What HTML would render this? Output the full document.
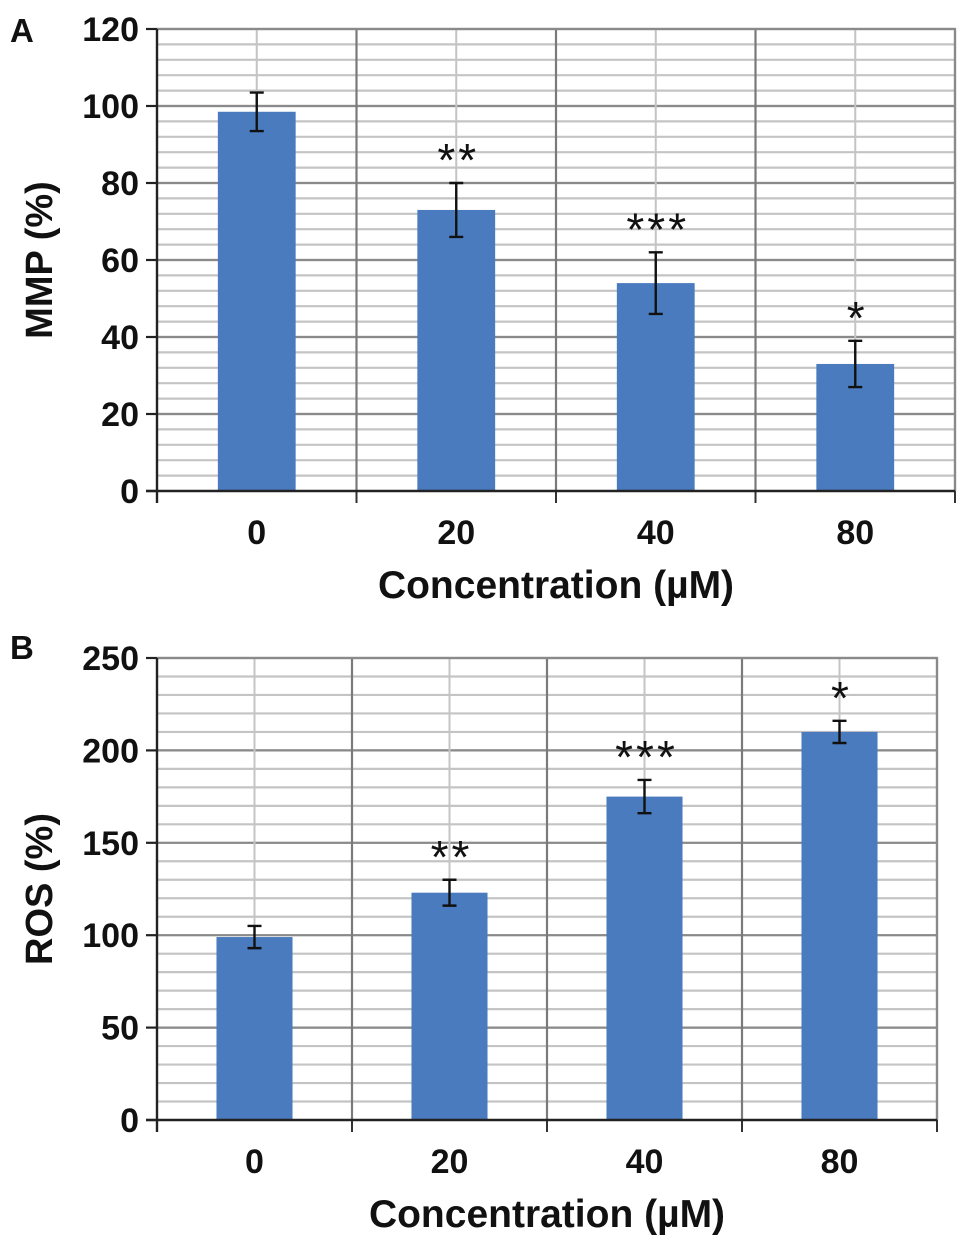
<!DOCTYPE html>
<html><head><meta charset="utf-8"><style>
html,body{margin:0;padding:0;background:#fff;}
svg{display:block;font-family:"Liberation Sans",Arial,sans-serif;font-weight:bold;}
</style></head><body>
<svg id="chart" width="969" height="1247" viewBox="0 0 969 1247" xmlns="http://www.w3.org/2000/svg"></svg>
<script>
const categories = ["0","20","40","80"];
const mmpValues = [98.5, 73, 54, 33];
const mmpErrors = [5, 7, 8, 6];
const mmpStars = ["", "**", "***", "*"];
const mmpTicks = [0,20,40,60,80,100,120];
const rosValues = [99, 123, 175, 210];
const rosErrors = [6, 7, 9, 6];
const rosStars = ["", "**", "***", "*"];
const rosTicks = [0,50,100,150,200,250];

const NS = "http://www.w3.org/2000/svg";
const svg = document.getElementById("chart");
function mk(tag, attrs, parent){
  const e = document.createElementNS(NS, tag);
  for (const k in attrs) e.setAttribute(k, attrs[k]);
  (parent||svg).appendChild(e);
  return e;
}

function panel(cfg){
  const g = mk("g", {});
  
  
  const {left,right,top,bottom,max,minor} = cfg;
  const yS = v => bottom - (v/max)*(bottom-top);
  const cw = (right-left)/categories.length;
  const xC = i => left + cw*(i+0.5);
  for (let v=minor; v<max; v+=minor){
    const l = mk("line",{x1:left,x2:right,y1:yS(v),y2:yS(v),stroke:"#c4c4c4","stroke-width":2.2},g);
    
    
  }
  cfg.ticks.forEach(t=>{
    if(t===0) return;
    const l = mk("line",{x1:left,x2:right,y1:yS(t),y2:yS(t),stroke:"#8a8a8a","stroke-width":2.2},g);
    
    
  });
  categories.forEach((c,i)=>{
    const lc = mk("line",{x1:xC(i),x2:xC(i),y1:top,y2:bottom,stroke:"#c4c4c4","stroke-width":2},g);
    
    
    const xb = left+cw*(i+1);
    const lb = mk("line",{x1:xb,x2:xb,y1:top,y2:bottom,stroke:"#7a7a7a","stroke-width":2.2},g);
    
    
    const tk = mk("line",{x1:xb,x2:xb,y1:bottom,y2:bottom+12,stroke:"#333","stroke-width":2},g);
    
    
  });
  cfg.values.forEach((v,i)=>{
    const bw = cw*0.39;
    const b = mk("rect",{x:xC(i)-bw/2,y:yS(v),width:bw,height:bottom-yS(v),fill:"#4a7bbf"},g);
    
    
    const e = cfg.errors[i];
    const eg = mk("path",{d:`M${xC(i)} ${yS(v+e)}V${yS(v-e)}M${xC(i)-7} ${yS(v+e)}H${xC(i)+7}M${xC(i)-7} ${yS(v-e)}H${xC(i)+7}`,stroke:"#111","stroke-width":2.4,fill:"none"},g);
    
    
    if(cfg.stars[i]){
      const s = mk("text",{x:xC(i)+2,y:yS(v+e)-7,"text-anchor":"middle","font-size":46,"font-weight":"normal","letter-spacing":3,fill:"#111"},g);
      s.textContent = cfg.stars[i];
      
      
    }
    const xl = mk("text",{x:xC(i),y:bottom+53,"text-anchor":"middle","font-size":34,fill:"#111"},g);
    xl.textContent = categories[i];
    
    
  });
  const bd = mk("path",{d:`M${left} ${top}H${right}V${bottom}`,stroke:"#8a8a8a","stroke-width":2.2,fill:"none"},g);
  
  
  const ya = mk("line",{x1:left,x2:left,y1:top,y2:bottom+12,stroke:"#222","stroke-width":2.4},g);
  
  
  const xa = mk("line",{x1:left-11,x2:right,y1:bottom,y2:bottom,stroke:"#222","stroke-width":2.4},g);
  
  
  cfg.ticks.forEach(t=>{
    const tk = mk("line",{x1:left-11,x2:left,y1:yS(t),y2:yS(t),stroke:"#222","stroke-width":2.2},g);
    
    
    const tl = mk("text",{x:139,y:yS(t)+12,"text-anchor":"end","font-size":34,fill:"#111"},g);
    tl.textContent = t;
    
    
  });
  const yt = mk("text",{x:0,y:0,"text-anchor":"middle","font-size":38,fill:"#111",transform:`translate(52 ${(top+bottom)/2}) rotate(-90)`},g);
  yt.textContent = cfg.ytitle;
  
  
  const xt = mk("text",{x:(left+right)/2,y:bottom+107,"text-anchor":"middle","font-size":39,fill:"#111"},g);
  xt.textContent = "Concentration (\u00b5M)";
  
  
  const pl = mk("text",{x:10,y:cfg.letterY,"font-size":33,fill:"#111"},g);
  pl.textContent = cfg.letter;
  
  
}

panel({name:"panel-a-mmp",left:157,right:955,top:29,bottom:491,max:120,minor:4,ticks:mmpTicks,values:mmpValues,errors:mmpErrors,stars:mmpStars,ytitle:"MMP (%)",letter:"A",letterY:42});
panel({name:"panel-b-ros",left:157,right:937,top:658,bottom:1120,max:250,minor:10,ticks:rosTicks,values:rosValues,errors:rosErrors,stars:rosStars,ytitle:"ROS (%)",letter:"B",letterY:659});
</script>
</body></html>
